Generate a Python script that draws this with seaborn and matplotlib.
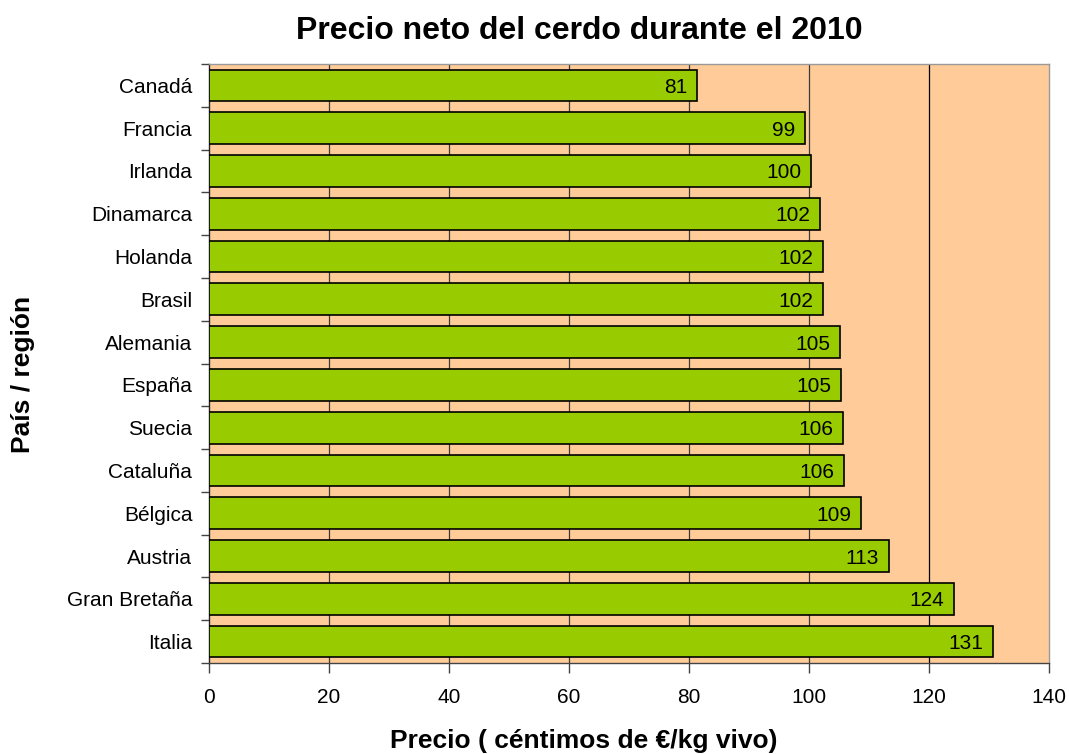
import matplotlib
matplotlib.use("Agg")
import matplotlib.pyplot as plt
import seaborn as sns
import pandas as pd
import numpy as np

paises = ["Canadá", "Francia", "Irlanda", "Dinamarca", "Holanda", "Brasil", "Alemania",
          "España", "Suecia", "Cataluña", "Bélgica", "Austria", "Gran Bretaña", "Italia"]
precios = [81.4, 99.3, 100.4, 101.8, 102.3, 102.3, 105.2, 105.4, 105.6, 105.8, 108.7, 113.3, 124.2, 130.6]
etiquetas = ["81", "99", "100", "102", "102", "102", "105", "105", "106", "106", "109", "113", "124", "131"]
xticks = [0, 20, 40, 60, 80, 100, 120, 140]

sns.set_theme(style="white")
plt.rcParams['font.family'] = ['Liberation Sans', 'DejaVu Sans']
plt.rcParams['text.color'] = 'black'
plt.rcParams['xtick.color'] = 'black'
plt.rcParams['ytick.color'] = 'black'

df = pd.DataFrame({"pais": paises, "precio": precios})

fig = plt.figure(figsize=(10.69, 7.54), dpi=100)
ax = fig.add_axes([209 / 1069, 1 - 663 / 754, 840 / 1069, 599 / 754])
ax.set_facecolor("#FFCC99")

sns.barplot(data=df, x="precio", y="pais", orient="h", color="#99CC00",
            edgecolor="black", linewidth=1.2, width=0.74, saturation=1, ax=ax, zorder=3)

ax.set_xlim(0, 140)
ax.set_xticks(xticks)
ax.set_xticklabels([str(t) for t in xticks], fontsize=15, color="black")
for t in xticks[1:-1]:
    ax.axvline(t, color="#000000" if t == 120 else "#3a3a3a", linewidth=0.9, zorder=1)

ax.set_ylim(len(paises) - 0.5, -0.5)
ax.set_yticks(range(len(paises)))
ax.set_yticklabels(paises, fontsize=15, color="black")
ax.tick_params(axis="y", which="major", length=0, pad=12)
ax.set_yticks(np.arange(-0.5, len(paises) + 0.5, 1), minor=True)
ax.tick_params(axis="y", which="minor", length=6, width=1, color="#444444", direction="out", left=True)
ax.tick_params(axis="x", length=7, width=1, color="#444444", direction="out", bottom=True, pad=11)

for i, (v, lab) in enumerate(zip(precios, etiquetas)):
    ax.text(v - 1.6, i, lab, ha="right", va="center_baseline", fontsize=15, color="black", zorder=4)

for s in ax.spines.values():
    s.set_color("#999999")
    s.set_linewidth(1)
ax.spines["left"].set_color("#222222")
ax.spines["bottom"].set_color("#444444")

ax.set_xlabel("")
ax.set_ylabel("")
fig.text(584 / 1069, 1 - 748 / 754, "Precio ( céntimos de €/kg vivo)", fontsize=19,
         fontweight="bold", ha="center", va="baseline", color="black")
fig.text(23 / 1069, 1 - 374 / 754, "País / región", fontsize=19, fontweight="bold",
         ha="center", va="center", rotation=90, color="black")
fig.text(579 / 1069, 1 - 31 / 754, "Precio neto del cerdo durante el 2010", fontsize=23,
         fontweight="bold", ha="center", va="center", color="black")

fig.savefig("out.png", dpi=100)
